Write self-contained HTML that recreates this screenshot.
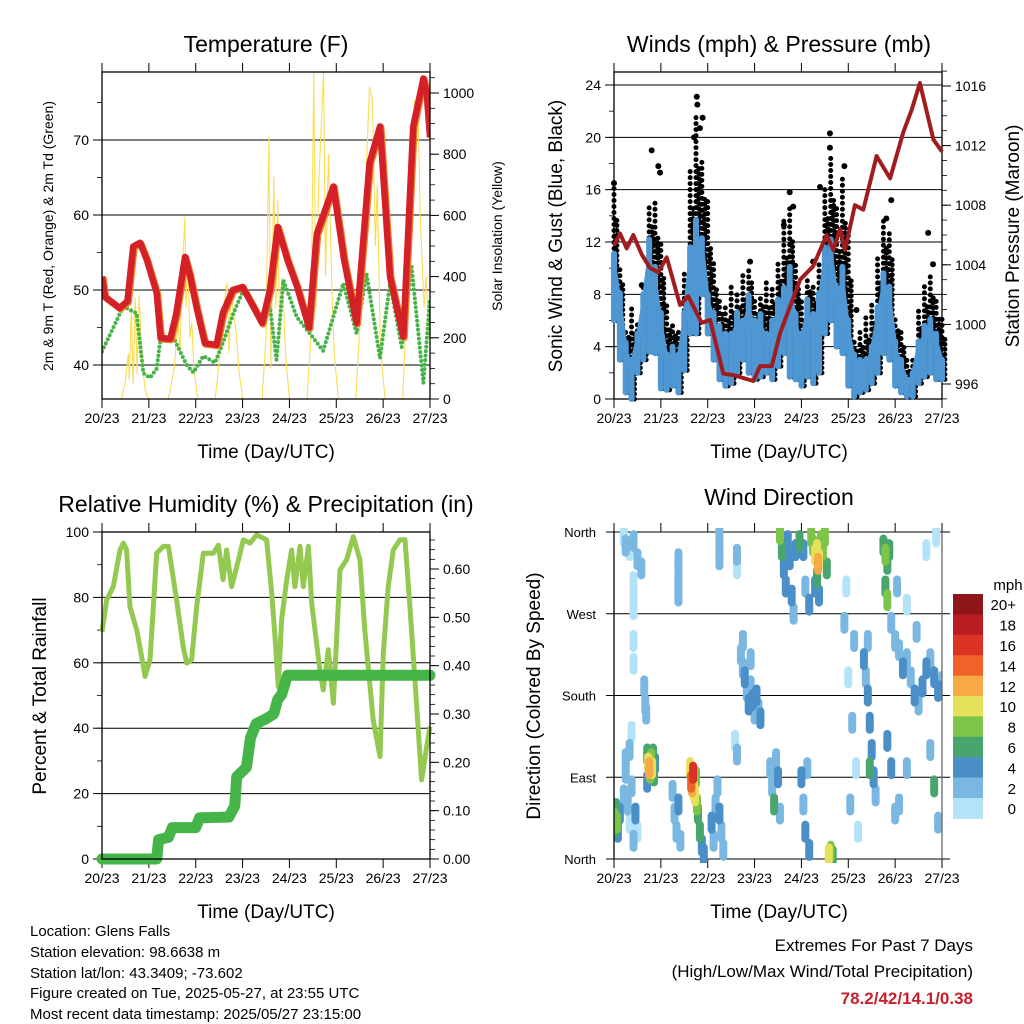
<!DOCTYPE html>
<html><head><meta charset="utf-8"><title>Station Meteogram</title>
<style>
html,body{margin:0;padding:0;background:#fff;}
svg{display:block;font-family:"Liberation Sans",Arial,sans-serif;}
</style></head>
<body>
<svg id="chart" width="1024" height="1024" viewBox="0 0 1024 1024" xmlns="http://www.w3.org/2000/svg">
<rect width="1024" height="1024" fill="#fff"/>
<g id="layer"></g>
<text x="266" y="52" font-size="23" text-anchor="middle">Temperature (F)</text>
<text x="779" y="52" font-size="23" text-anchor="middle">Winds (mph) &amp; Pressure (mb)</text>
<text x="266" y="512" font-size="23" text-anchor="middle">Relative Humidity (%) &amp; Precipitation (in)</text>
<text x="779" y="505" font-size="23" text-anchor="middle">Wind Direction</text>
<text x="266" y="458" font-size="19" text-anchor="middle">Time (Day/UTC)</text>
<text x="779" y="458" font-size="19" text-anchor="middle">Time (Day/UTC)</text>
<text x="266" y="918" font-size="19" text-anchor="middle">Time (Day/UTC)</text>
<text x="779" y="918" font-size="19" text-anchor="middle">Time (Day/UTC)</text>
<text transform="translate(53,236) rotate(-90)" font-size="14" text-anchor="middle">2m &amp; 9m T (Red, Orange) &amp; 2m Td (Green)</text>
<text transform="translate(502,236) rotate(-90)" font-size="14" text-anchor="middle">Solar Insolation (Yellow)</text>
<text transform="translate(562,236) rotate(-90)" font-size="19" text-anchor="middle">Sonic Wind &amp; Gust (Blue, Black)</text>
<text transform="translate(1019,236) rotate(-90)" font-size="19" text-anchor="middle">Station Pressure (Maroon)</text>
<text transform="translate(46,696) rotate(-90)" font-size="19" text-anchor="middle">Percent &amp; Total Rainfall</text>
<text transform="translate(540,696) rotate(-90)" font-size="19" text-anchor="middle">Direction (Colored By Speed)</text>
<g font-size="15">
<text x="30" y="936">Location: Glens Falls</text>
<text x="30" y="957">Station elevation: 98.6638 m</text>
<text x="30" y="978">Station lat/lon: 43.3409; -73.602</text>
<text x="30" y="998">Figure created on Tue, 2025-05-27, at 23:55 UTC</text>
<text x="30" y="1019">Most recent data timestamp: 2025/05/27 23:15:00</text>
</g>
<text x="973" y="951" font-size="17" text-anchor="end">Extremes For Past 7 Days</text>
<text x="973" y="977" font-size="17" text-anchor="end">(High/Low/Max Wind/Total Precipitation)</text>
<text x="973" y="1004" font-size="17" font-weight="bold" fill="#c8202a" text-anchor="end">78.2/42/14.1/0.38</text>
</svg>
<script>
// ---------- data ----------
const dayLabels = ["20/23","21/23","22/23","23/23","24/23","25/23","26/23","27/23"];
const tempHours = [0,1.5,9,13,16,19.5,23,28,30,35,38,42.5,45,48.5,52.7,58.7,62,67,72,76,82,86,90,95,100,106,110,118.5,124,130.4,137,142.4,147.5,154.3,159.4,164.6,166.3,168];
const tempVals = [51.8,49.1,47.6,48.5,55.8,56.3,54,49.6,43.6,43.5,46.8,54.4,52,47.6,42.9,42.7,47,50,50.4,48.5,45.6,50,58.4,54,50.4,45,57.5,63.8,54,45.6,66.9,71.8,51.8,43.8,71.8,78.2,76.2,70.4];
const dewHours = [0,10.9,17.7,21.2,24.6,28,29.7,36.5,43.4,46.8,51.9,57.9,62,67.3,72.4,80.9,86,89.4,92.9,99.7,106.5,113.3,123.6,130.4,135.5,142.4,147.5,153.5,158.6,164.6,168];
const dewVals = [41.8,47.8,46.9,38.9,38.3,39.5,43,43.7,40,39,41.2,40.3,43,46.9,50,46.4,47.8,40.7,51.3,46.4,44.2,41.9,50.9,44.2,52.2,40.9,50.9,42.4,53.1,37.6,49];
const solarHours = [10,12,13.5,14,15,16,17,18,19,20,21,22,24, 34,37,39,40,41,42.5,43,44,45,46,47,49, 58,60,62,64,65,66,67,69,70,72, 82,84,85.5,86.5,88,89,90,91,92,93,94,96, 105,107,108.5,109.5,111,113.5,114.5,116,118,119,121, 130,132.5,135,137,138.5,140,141,142.5,143.5,145, 154,156,158,160,162,163,165,166,167.5];
const solarVals = [0,60,150,60,300,50,330,80,340,200,100,30,0, 0,100,250,150,400,596,300,450,200,250,100,0, 0,120,280,380,150,350,300,200,100,0, 0,200,857,100,726,300,650,200,400,300,150,0, 0,200,1065,300,700,1070,400,800,300,150,0, 0,300,700,1020,980,500,700,200,100,0, 0,300,700,977,900,600,300,400,200];
const windHours = [0,3,6,9,12,15,18,21,24,27,30,33,36,39,42,45,48,51,54,57,60,63,66,69,72,75,78,81,84,87,90,93,96,99,102,105,108,111,114,117,120,123,126,129,132,135,138,141,144,147,150,153,156,159,162,165,168];
const windLow = [6,3,0.5,0,2,3,3.6,3.5,0.8,0.7,1,0.5,2.2,5,5,8,5,3,1.5,1,1.2,2,3,2,1.5,1.7,2,1.5,2.5,3.5,1.7,1.5,1,1.7,1.2,2,5,6,4,3.5,1,0.2,0.5,0.7,1.2,2,3.5,3,1,0.5,0.2,0.2,1.2,1.7,2,1.5,1.5];
const windHigh = [11.1,8.1,4.3,3,5,8,12.2,10.1,6.6,3.4,4,3.4,6.6,11.6,13.7,12.3,8,6.6,5.6,5,5,6.6,6,7.9,6,6.5,5,6,7.6,8.5,10.1,6.5,5,7.6,6.5,8.1,11.6,12.2,8.5,10.1,6,3.4,3,3,4,7,9.6,8.6,4.4,3,1.5,2,4.4,5.6,6.1,5,3];
const gustVals = [16.5,10.1,5.5,7,6,8.6,14.7,15,12.2,7.5,6,5.5,9.6,17.8,21.9,18.3,15.2,10.6,7.6,7.4,8.6,8.1,9.6,10.1,7.6,8.1,9.1,8.6,10.6,13.7,14.7,10.6,7.6,9.1,8.6,10.6,16.2,18.4,14.7,17,12.7,4.6,5.5,6.6,7.6,11.1,13.9,12.7,6.5,5.5,3,3.4,7,8.6,9.6,7.6,6.5];
const gustPeakHours = [19.3,22.7,23.6,42.4,42.7,45.4,44,41,0,69.7,90,91.8,87,110.6,110.6,118,105.5,142,139.5,160.9,163.4,102,14.2,124.2];
const gustPeakVals = [19,17.8,17.3,23.1,22.5,21.5,20.7,20,16.5,10.5,15.8,14.7,13.3,20.3,19.2,17.8,16.2,15.2,13.8,12.7,10.3,10.5,8.7,6.8];
const presHours = [0,3.1,6.5,9.9,14.2,18.4,22.7,27,33.8,38,44.9,49.2,56,61.1,71.4,74.8,80.8,85,95.3,102,108.9,112.3,115.8,118.3,123.4,127.7,134.5,141.4,148.2,152.5,156.7,163.6,168];
const presVals = [1005.3,1006.1,1005.1,1006,1004.7,1003.8,1003.5,1004.5,1001.3,1001.9,1000.1,1000.3,996.7,996.6,996.2,997.2,997.2,999.4,1003,1003.9,1006,1005,1006.4,1005,1008,1007.7,1011.3,1009.8,1012.9,1014.4,1016.2,1012.4,1011.6];
const rhHours = [0,2.4,5.8,9.2,10.9,12.6,14.3,17.8,21.2,22,24.6,28,31.4,34,38.2,41.6,43.4,45.9,48.5,51.9,57,59.6,62,63.8,66.4,69,72.4,75.8,79.2,84.3,86.9,88.6,90.3,92,94.6,97.1,98.8,101.4,103.1,105.7,107.4,111.6,113.3,115.9,118.5,121.9,125.3,128.7,132.1,134.6,138.9,142.4,144.1,146.6,149.2,152.6,155.2,157.7,161.1,163.7,166.3,168];
const rhVals = [69.5,79.2,83.3,94.5,96.6,94.5,77.2,70,58.9,55.8,60.9,93.5,95.6,95.6,79.2,65,59.9,60.9,77.2,93.5,93.5,96,85.4,94.5,83.3,89.4,97.6,96.6,99.1,97.6,81.3,68,52.7,73.1,85.4,94.5,83.3,95.6,83.3,95.6,78.2,57.8,51.7,64,47.6,88.4,91.5,98.6,91.5,70,42.5,31.3,62.9,83.3,94.5,97.6,97.6,77.2,47.6,24.2,34.4,40.5];
const precipHours = [0,28,29,34,36,48,50,65,68,69,74,76,79,84,88,90,92,95,168];
const precipVals = [0,0,0.04,0.045,0.065,0.065,0.085,0.087,0.11,0.17,0.19,0.25,0.28,0.29,0.30,0.33,0.34,0.38,0.38];
const dirHours = [0,0.5,1,1.5,2,3, 5,6,7,8,9,10,11,12,6,8,9, 5,6,8,10,12,14,10,10,10,10,10, 17,17.5,18,18.5,19,19.5,20,20.5,21,17,15.5,16,16.5, 33,33,33,33,30,31,32,33,34, 39,39.5,40,40.5,41,41.5,42,42.5,43,44,45,46, 50,51,52,53,54,55,56,54,54,54,63,63,62,63, 65,66,67,68,69,70,71,72,73,74,75,66,70, 80,81,82,83,84,85, 85,86,87,88,89,90,91,92,93,95,97,98, 101,102,103,104,104.5,105,106,107,108,109,103,105,100,104, 96,97,98,99,100,110,111,112, 118,120,122,124,121,125,123,119, 128,129,130,131,132,133,134,130,131, 138,139,140,141,139,140, 142,144,146,148,150,152,154,156,158,160,162,164,166,168,145,150,155,160,165,162,164,166,150,146,140,142,144];
const dirDeg = [45,35,55,40,30,50, 70,95,60,40,80,20,50,30,110,120,140, 355,345,340,350,330,320,305,290,275,240,215, 115,105,100,95,110,100,115,92,105,85,190,170,160, 330,315,300,290,75,50,30,60,20, 100,85,80,95,75,70,90,60,50,30,15,5, 40,20,60,80,50,30,10,355,340,330,335,320,130,115, 225,210,200,185,170,190,175,160,180,165,155,240,220, 100,80,60,110,90,50, 358,340,320,300,350,330,290,270,340,350,340,300, 355,345,335,340,325,330,350,340,355,320,300,290,280,310, 90,60,30,100,10,5,8,3, 260,200,150,100,60,30,240,300, 220,200,180,150,120,90,70,240,100, 345,335,325,340,300,285, 260,240,230,210,220,200,180,170,190,210,220,200,185,195,300,280,250,340,355,120,80,40,100,60,130,100,50];
const dirSpeed = [9,7,6,8,5,4, 3,2,2,1,3,2,4,1,2,3,1, 1,2,1,2,2,2,0,1,0,1,1, 6,10,12,8,9,10,6,7,5,4,2,3,2, 2,2,2,2,3,2,3,4,2, 10,14,12,16,10,11,9,8,7,6,5,4, 4,3,3,2,4,3,2,2,2,3,2,1,1,2, 3,2,4,3,4,3,5,3,4,2,4,2,3, 2,3,6,2,4,3, 8,6,4,5,4,5,4,3,5,6,4,3, 8,8,10,11,12,10,9,8,8,6,4,5,4,6, 4,3,4,3,4,10,8,6, 2,1,2,1,2,1,2,1, 4,3,4,5,4,4,3,2,6, 6,8,7,7,7,8, 3,2,3,4,2,3,4,3,5,4,3,4,5,3,2,1,2,1,1,3,6,3,3,2,4,5,2];
const speedLabels = ["20+","18","16","14","12","10","8","6","4","2","0"];
const speedColors = ["#8e1619","#bb1c24","#dc3226","#ef6329","#f6a945","#e5e15a","#7dc44a","#48a56d","#4a8fc7","#7ab8e2","#b3e3f8"];

// ---------- helpers ----------
const NS = "http://www.w3.org/2000/svg";
const layer = document.getElementById("layer");
function mk(tag, attrs, parent) {
  const e = document.createElementNS(NS, tag);
  for (const k in attrs) e.setAttribute(k, attrs[k]);
  (parent || layer).appendChild(e);
  return e;
}
function txt(x, y, s, size, anchor, parent) {
  const t = mk("text", {x: x, y: y, "font-size": size, "text-anchor": anchor}, parent);
  t.textContent = s;
  return t;
}
function lin(d0, d1, p0, p1) { return v => p0 + (v - d0) / (d1 - d0) * (p1 - p0); }
function pathFrom(xsArr, ysArr) {
  return xsArr.map((v, i) => (i ? "L" : "M") + v.toFixed(1) + " " + ysArr[i].toFixed(1)).join("");
}

function timeAxis(P, g) {
  const xs = lin(0, 168, P.x, P.x + P.w);
  dayLabels.forEach((lab, d) => {
    const x = xs(d * 24);
    mk("line", {x1: x, y1: P.y - 9, x2: x, y2: P.y, stroke: "#000", "stroke-width": 1}, g);
    mk("line", {x1: x, y1: P.y + P.h, x2: x, y2: P.y + P.h + 9, stroke: "#000", "stroke-width": 1}, g);
    const t = txt(x, P.y + P.h + 24, lab, 14, "middle", g);
    
    
  });
  return xs;
}
function frame(P, g) {
  mk("rect", {x: P.x, y: P.y, width: P.w, height: P.h, fill: "none", stroke: "#000", "stroke-width": 1.3}, g);
}
function yTicks(P, ys, vals, labelFn, side, minorStep, lo, hi, g, grid) {
  const xEdge = side === "left" ? P.x : P.x + P.w;
  const dir = side === "left" ? -1 : 1;
  if (minorStep) {
    for (let v = Math.ceil(lo / minorStep) * minorStep; v <= hi + 1e-9; v += minorStep) {
      const y = ys(v);
      mk("line", {x1: xEdge, y1: y, x2: xEdge + dir * 5, y2: y, stroke: "#000", "stroke-width": 0.8}, g);
    }
  }
  vals.forEach(v => {
    const y = ys(v);
    mk("line", {x1: xEdge, y1: y, x2: xEdge + dir * 9, y2: y, stroke: "#000", "stroke-width": 1}, g);
    if (grid) mk("line", {x1: P.x, y1: y, x2: P.x + P.w, y2: y, stroke: "#000", "stroke-width": 1}, g);
    const t = txt(xEdge + dir * 13, y + 5, labelFn(v), 14, side === "left" ? "end" : "start", g);
    
    
  });
}

// ---------- Panel 1: temperature ----------
(function () {
  const P = {x: 102, y: 72, w: 328, h: 327};
  const g = mk("g", {});
  
  
  const xs = timeAxis(P, g);
  const yT = lin(40, 70, 365, 140);
  const yS = lin(0, 1000, 399, 93);
  yTicks(P, yT, [40, 50, 60, 70], v => String(v), "left", 5, 36, 79, g, true);
  yTicks(P, yS, [0, 200, 400, 600, 800, 1000], v => String(v), "right", 50, 0, 1060, g, false);
  const cp = mk("clipPath", {id: "clip1"}, g);
  mk("rect", {x: P.x, y: P.y, width: P.w, height: P.h}, cp);
  const cg = mk("g", {"clip-path": "url(#clip1)"}, g);
  const sol = mk("path", {d: pathFrom(solarHours.map(xs), solarVals.map(yS)), fill: "none", stroke: "#fbdc55", "stroke-width": 1.1}, cg);
  
  
  const dew = mk("path", {d: pathFrom(dewHours.map(xs), dewVals.map(yT)), fill: "none", stroke: "#46b247", "stroke-width": 4, "stroke-dasharray": "0 4.5", "stroke-linecap": "round"}, cg);
  
  
  const t9 = mk("path", {d: pathFrom(tempHours.map(h => xs(h) + 1), tempVals.map(v => yT(v) + 1)), fill: "none", stroke: "#f07f2a", "stroke-width": 7, "stroke-linejoin": "round"}, cg);
  
  
  const t2 = mk("path", {d: pathFrom(tempHours.map(xs), tempVals.map(yT)), fill: "none", stroke: "#d42027", "stroke-width": 6.5, "stroke-linejoin": "round"}, cg);
  
  
  frame(P, g);
})();

// ---------- Panel 2: winds & pressure ----------
(function () {
  const P = {x: 614, y: 72, w: 328, h: 327};
  const g = mk("g", {});
  
  
  const xs = timeAxis(P, g);
  const yW = lin(0, 24, 399, 85);
  const yP = lin(996, 1016, 384, 86);
  yTicks(P, yW, [0, 4, 8, 12, 16, 20, 24], v => String(v), "left", 2, 0, 25, g, true);
  yTicks(P, yP, [996, 1000, 1004, 1008, 1012, 1016], v => String(v), "right", 1, 995, 1017, g, false);
  const cg = mk("g", {});
  windHours.forEach((h, i) => {
    const x = xs(h);
    const c = mk("line", {x1: x, y1: yW(windLow[i]), x2: x, y2: yW(gustVals[i]), stroke: "#000", "stroke-width": 5, "stroke-linecap": "round", "stroke-dasharray": "0 6"}, cg);
    
    
    const c2 = mk("line", {x1: x + 2.9, y1: yW(windLow[i]), x2: x + 2.9, y2: yW((gustVals[i] + windHigh[i]) / 2), stroke: "#000", "stroke-width": 5, "stroke-linecap": "round", "stroke-dasharray": "0 5"}, cg);
    
    
  });
  gustPeakHours.forEach((h, i) => {
    const c = mk("circle", {cx: xs(h), cy: yW(gustPeakVals[i]), r: 3, fill: "#000"}, cg);
    
    
  });
  windHours.forEach((h, i) => {
    const x = xs(h);
    const b = mk("line", {x1: x, y1: yW(windLow[i]), x2: x, y2: yW(windHigh[i]), stroke: "#4f97d2", "stroke-width": 6, "stroke-linecap": "round"}, cg);
    
    
  });
  const gx = windHours.map(xs);
  const mid = windHigh.map((v, i) => yW(v * 0.8 + windLow[i] * 0.2));
  const blue = mk("path", {d: pathFrom(gx, mid), fill: "none", stroke: "#4f97d2", "stroke-width": 5, "stroke-linejoin": "round"}, cg);
  
  
  const pr = mk("path", {d: pathFrom(presHours.map(xs), presVals.map(yP)), fill: "none", stroke: "#a01c1f", "stroke-width": 4, "stroke-linejoin": "round"}, cg);
  
  
  frame(P, g);
})();

// ---------- Panel 3: RH & precip ----------
(function () {
  const P = {x: 102, y: 532, w: 328, h: 327};
  const g = mk("g", {});
  
  
  const xs = timeAxis(P, g);
  const yR = lin(0, 100, 859, 532);
  const yPr = lin(0, 0.6, 859, 569);
  yTicks(P, yR, [0, 20, 40, 60, 80, 100], v => String(v), "left", 10, 0, 100, g, true);
  yTicks(P, yPr, [0, 0.1, 0.2, 0.3, 0.4, 0.5, 0.6], v => v.toFixed(2), "right", 0.02, 0, 0.67, g, false);
  const rh = mk("path", {d: pathFrom(rhHours.map(xs), rhVals.map(yR)), fill: "none", stroke: "#93c950", "stroke-width": 5, "stroke-linejoin": "round"}, g);
  
  
  const pc = mk("path", {d: pathFrom(precipHours.map(xs), precipVals.map(yPr)), fill: "none", stroke: "#45b449", "stroke-width": 11, "stroke-linejoin": "round", "stroke-linecap": "round"}, g);
  
  
  frame(P, g);
})();

// ---------- Panel 4: wind direction ----------
(function () {
  const P = {x: 614, y: 532, w: 328, h: 327};
  const g = mk("g", {});
  
  
  const xs = timeAxis(P, g);
  const yD = lin(0, 360, 859, 532);
  const names = ["North", "East", "South", "West", "North"];
  [0, 90, 180, 270, 360].forEach((v, i) => {
    const y = yD(v);
    mk("line", {x1: P.x - 8, y1: y, x2: P.x + P.w + 8, y2: y, stroke: "#000", "stroke-width": 1}, g);
    const t = txt(P.x - 18, y + 5, names[i], 13, "end", g);
    
    
  });
  const cp = mk("clipPath", {id: "clip4"}, g);
  mk("rect", {x: P.x, y: P.y - 4, width: P.w, height: P.h + 8}, cp);
  const cg = mk("g", {"clip-path": "url(#clip4)"}, g);
  const order = dirSpeed.map((s, i) => i).sort((a, b) => dirSpeed[a] - dirSpeed[b]);
  order.forEach(i => {
    const idx = 10 - Math.min(10, Math.floor(dirSpeed[i] / 2));
    const x = xs(dirHours[i]), y = yD(dirDeg[i]);
    const c = mk("line", {x1: x, y1: y - 7, x2: x, y2: y + 7, stroke: speedColors[idx], "stroke-width": 8, "stroke-linecap": "round"}, cg);
    
    
  });
  mk("line", {x1: P.x, y1: P.y, x2: P.x, y2: P.y + P.h, stroke: "#000", "stroke-width": 1.3}, g);
  mk("line", {x1: P.x + P.w, y1: P.y, x2: P.x + P.w, y2: P.y + P.h, stroke: "#666", "stroke-width": 1.3}, g);
  const cb = mk("g", {});
  
  
  txt(1008, 590, "mph", 15, "middle", cb);
  const bh = 20.4;
  speedLabels.forEach((lab, i) => {
    const y = 594 + i * bh;
    const r = mk("rect", {x: 953, y: y, width: 30, height: bh + 0.5, fill: speedColors[i]}, cb);
    
    
    const l = txt(1016, y + bh / 2 + 6, lab, 15, "end", cb);
    
    
  });
})();
</script>
</body></html>
